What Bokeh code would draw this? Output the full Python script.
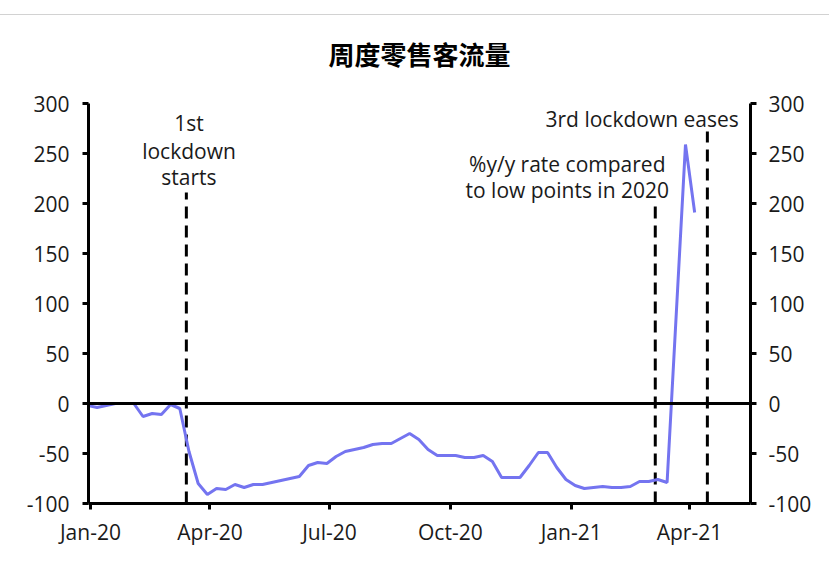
import datetime as dt
from bokeh.plotting import figure
from bokeh.models import (Range1d, LinearAxis, DatetimeAxis, FixedTicker, Span,
                          Label, Title, ColumnDataSource, InlineStyleSheet)
from bokeh.embed import file_html
from bokeh.resources import INLINE

# ---------------- data ----------------
start_week = dt.datetime(2019, 12, 30)
week_index = list(range(0, 64)) + [65, 66]
footfall = [-2, -4, -2, 0, 0, 0, -13, -10, -11, -1,
            -5, -48, -80, -91, -85, -86, -81, -84, -81, -81,
            -79, -77, -75, -73, -62, -59, -60, -53, -48, -46,
            -44, -41, -40, -40, -35, -30, -36, -46, -52, -52,
            -52, -54, -54, -52, -58, -74, -74, -74, -62, -49,
            -49, -64, -76, -82, -85, -84, -83, -84, -84, -83,
            -78, -78, -76, -79, 259, 191]
dates = [start_week + dt.timedelta(weeks=k) for k in week_index]

event_dates = [dt.datetime(2020, 3, 14), dt.datetime(2021, 3, 6), dt.datetime(2021, 4, 14, 16)]
event_tops = [211, 204, 272]

tick_dates = [dt.datetime(2020, 1, 1), dt.datetime(2020, 4, 1), dt.datetime(2020, 7, 1),
              dt.datetime(2020, 10, 1), dt.datetime(2021, 1, 1), dt.datetime(2021, 4, 1)]
tick_labels = ["Jan-20", "Apr-20", "Jul-20", "Oct-20", "Jan-21", "Apr-21"]
y_ticks = [-100, -50, 0, 50, 100, 150, 200, 250, 300]
y_tick_labels = ["-100", "-50", "0", "50", "100", "150", "200", "250", "300"]

title_text = "周度零售客流量"
ann1 = ["1st", "lockdown", "starts"]
ann2 = ["%y/y rate compared", "to low points in 2020"]
ann3 = "3rd lockdown eases"

# ---------------- figure ----------------
FONT = "Open Sans"
TXT = "#1a1a1a"
x_start = dt.datetime(2019, 12, 30, 12)
x_end = x_start + dt.timedelta(days=504)

p = figure(width=815, height=556, output_backend="svg", toolbar_location=None,
           x_axis_type=None, y_axis_type=None,
           x_range=Range1d(x_start, x_end), y_range=Range1d(-100, 300),
           min_border_left=88, min_border_right=65, min_border_top=103, min_border_bottom=53)
p.outline_line_color = None
p.xgrid.visible = False
p.ygrid.visible = False
p.background_fill_color = "white"
p.border_fill_color = "white"

p.title = Title(text=title_text, align="center",
                text_font="Noto Sans CJK SC", text_font_size="26px",
                text_font_style="bold", text_color="black", standoff=63)

# thin grey rule across the top of the page
p.stylesheets = [InlineStyleSheet(css=(
    ":host::after { content: ''; position: absolute; top: 14px; left: 0; "
    "width: calc(100% + 14px); height: 1px; background: #d2d2d2; z-index: 5; "
    "pointer-events: none; }"))]

def style_axis(ax):
    ax.axis_line_width = 3
    ax.axis_line_color = "black"
    ax.major_tick_line_width = 3
    ax.major_tick_line_color = "black"
    ax.major_tick_out = 6
    ax.major_tick_in = 0
    ax.minor_tick_line_color = None
    ax.major_label_text_font = FONT
    ax.major_label_text_font_size = "21px"
    ax.major_label_text_color = TXT

y_over = {t: s for t, s in zip(y_ticks, y_tick_labels)}
yl = LinearAxis(ticker=FixedTicker(ticks=y_ticks))
style_axis(yl)
yl.major_label_standoff = 13
yl.major_label_overrides = y_over
p.add_layout(yl, "left")
yr = LinearAxis(ticker=FixedTicker(ticks=y_ticks))
style_axis(yr)
yr.major_label_standoff = 12
yr.major_label_overrides = y_over
p.add_layout(yr, "right")

tick_ms = [(d - dt.datetime(1970, 1, 1)).total_seconds() * 1000 for d in tick_dates]
xa = DatetimeAxis(ticker=FixedTicker(ticks=tick_ms))
style_axis(xa)
xa.major_label_standoff = 8
xa.major_label_overrides = {t: lab for t, lab in zip(tick_ms, tick_labels)}
p.add_layout(xa, "below")

p.add_layout(Span(location=0, dimension="width", line_color="black", line_width=3))

# event dashed lines
p.segment(x0=event_dates, y0=[-100] * 3, x1=event_dates, y1=event_tops,
          line_color="black", line_width=3, line_dash="12 7")

src = ColumnDataSource(dict(x=dates, y=footfall))
p.line("x", "y", source=src, line_color="#7474F0", line_width=3)

def lab(x, y, text, size="21px", align="center"):
    p.add_layout(Label(x=x, y=y, text=text, text_font=FONT, text_font_size=size,
                       text_color=TXT, text_align=align, text_baseline="middle"))

for t, yy in zip(ann1, [281, 253, 227]):
    lab(dt.datetime(2020, 3, 16), yy, t)
for t, yy in zip(ann2, [240, 214]):
    lab(dt.datetime(2020, 12, 29), yy, t)
lab(dt.datetime(2021, 2, 24), 285, ann3)

open("out.html", "w").write(file_html(p, INLINE))
